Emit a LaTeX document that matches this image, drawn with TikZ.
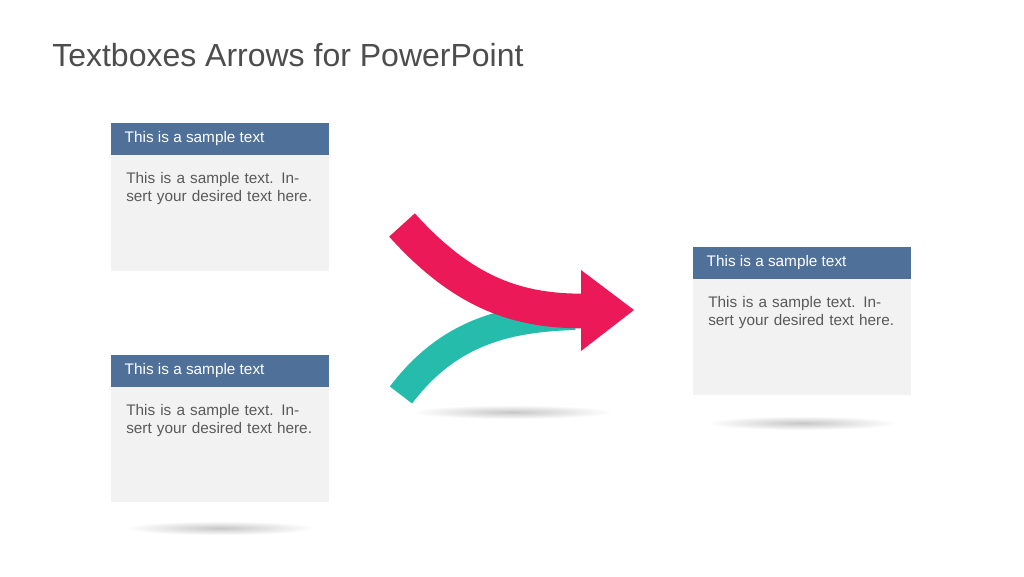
\documentclass[tikz,border=0pt]{standalone}
\usepackage{fontspec}
\setmainfont{Liberation Sans}
\definecolor{headblue}{RGB}{79,112,153}
\definecolor{bodygray}{RGB}{242,242,242}
\definecolor{titlegray}{RGB}{77,77,77}
\definecolor{textgray}{RGB}{89,89,89}
\definecolor{arrowred}{RGB}{236,25,88}
\definecolor{arrowteal}{RGB}{38,188,172}
\begin{document}
\begin{tikzpicture}[
    x=0.75pt, y=-0.75pt,
    head/.style={rectangle, fill=headblue, text=white, minimum width=163pt, minimum height=24pt, anchor=north west, inner sep=0pt, font=\fontsize{11.5}{13}\selectfont},
    body/.style={rectangle, fill=bodygray, minimum width=163pt, minimum height=87pt, anchor=north west, inner sep=0pt},
    bodytext/.style={anchor=north west, text width=140pt, text=textgray, align=left, inner sep=0pt, font=\fontsize{11.5}{13.7}\selectfont},
    shadow/.style={inner color=black!22, outer color=white}
]
\useasboundingbox[fill=white] (0,0) rectangle (1024,576);

% Title
\node[anchor=base west, text=titlegray, font=\fontsize{24}{28}\selectfont, inner sep=0pt] (title) at (52,66) {Textboxes Arrows for PowerPoint};

% Shadows
\shade[shadow] (220,528) ellipse (95 and 7);
\shade[shadow] (512,412) ellipse (100 and 7);
\shade[shadow] (802,423) ellipse (95 and 7);

% Box one
\node[body] (bodya) at (111,155) {};
\node[head] (heada) at (111,123) {};
\node[anchor=west, text=white, font=\fontsize{11.5}{13}\selectfont] (headtexta) at (120,139) {This is a sample text};
\node[bodytext] (texta) at (126,172) {This is a sample text. Insert your desired text here.};

% Box two
\node[body, minimum height=86pt] (bodyb) at (111,387) {};
\node[head] (headb) at (111,355) {};
\node[anchor=west, text=white, font=\fontsize{11.5}{13}\selectfont] (headtextb) at (120,371) {This is a sample text};
\node[bodytext] (textb) at (126,404) {This is a sample text. Insert your desired text here.};

% Box three
\node[body] (bodyc) at (693,279) {};
\node[head] (headc) at (693,247) {};
\node[anchor=west, text=white, font=\fontsize{11.5}{13}\selectfont] (headtextc) at (702,263) {This is a sample text};
\node[bodytext] (textc) at (708,296) {This is a sample text. Insert your desired text here.};

% Arrows
\coordinate (tealstart) at (401,395);
\coordinate (tealend) at (575,316);
\coordinate (redstart) at (402,225);
\coordinate (redend) at (583,311);
\coordinate (tip) at (634,310);
\draw[arrowteal, line width=21pt] (tealstart) .. controls (450,330) and (510,318) .. (tealend);
\draw[arrowred, line width=26pt] (redstart) .. controls (465,295) and (520,311) .. (redend);
\fill[arrowred] (581,270) -- (tip) -- (581,351) -- cycle;
\end{tikzpicture}
\end{document}
